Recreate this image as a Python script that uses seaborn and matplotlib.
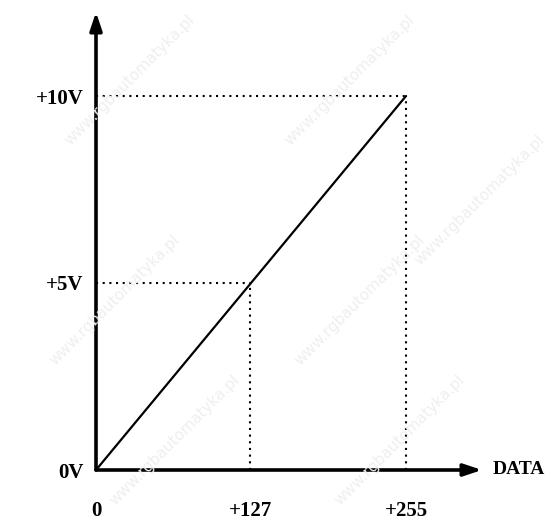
import matplotlib
matplotlib.use("Agg")
import matplotlib.pyplot as plt
import seaborn as sns

# ---- data ----
data_codes = [0, 255]          # transfer line: DATA code
voltages = [0, 10]             # transfer line: output volts
ref_codes = [127, 255]         # reference points (dotted guides)
ref_volts = [5, 10]
x_ticks = [0, 127, 255]
x_labels = ["0", "+127", "+255"]
y_ticks = [0, 5, 10]
y_labels = ["0V", "+5V", "+10V"]
x_axis_label = "DATA"
watermark = "www.rgbautomatyka.pl"
watermark_pos = [(130, 80), (350, 80), (480, 200), (115, 300), (360, 300),
                 (175, 440), (400, 440)]

sns.set_theme(style="white")
plt.rcParams['font.family'] = ['Liberation Serif', 'DejaVu Serif']

W, H = 547, 523
fig = plt.figure(figsize=(W / 100, H / 100), dpi=100)
fig.patch.set_facecolor("white")

# faint watermarks
for (px, py) in watermark_pos:
    fig.text(px / W, 1 - py / H, watermark, rotation=45, ha="center", va="center",
             fontsize=11, color="#efefef", family=["DejaVu Sans"], zorder=0)

ax = fig.add_axes([96 / W, 53 / H, 386 / W, 458 / H])
ax.patch.set_alpha(0)
xmax = 255 * 386 / 310
ymax = 10 * 458 / 374
ax.set_xlim(0, xmax)
ax.set_ylim(0, ymax)
for s in ax.spines.values():
    s.set_visible(False)

# dotted guide lines
for cx, cy in zip(ref_codes, ref_volts):
    ax.plot([0, cx], [cy, cy], color="black", lw=1.5, linestyle=(0, (1, 2.2)))
    ax.plot([cx, cx], [0, cy], color="black", lw=1.5, linestyle=(0, (1, 2.2)))

# transfer line
sns.lineplot(x=data_codes, y=voltages, ax=ax, color="black", lw=1.6)

# axes with arrows
arrow = dict(arrowstyle="-|>,head_length=0.9,head_width=0.3", lw=2.6, color="black",
             shrinkA=0, shrinkB=0, mutation_scale=12)
ax.annotate("", xy=(xmax, 0), xytext=(0, 0), arrowprops=arrow, annotation_clip=False)
ax.annotate("", xy=(0, ymax), xytext=(0, 0), arrowprops=arrow, annotation_clip=False)

ax.set_xticks(x_ticks, x_labels)
ax.set_yticks(y_ticks, y_labels)
ax.tick_params(axis="x", length=0, pad=22, labelsize=15)
ax.tick_params(axis="y", length=0, pad=9, labelsize=15)
for lab in ax.get_xticklabels() + ax.get_yticklabels():
    lab.set_fontweight("bold")
    lab.set_color("black")
ax.grid(False)

ax.annotate(x_axis_label, xy=(xmax, 0), xytext=(8, 0), textcoords="offset points",
            ha="left", va="center", fontsize=14, fontweight="bold", color="black",
            annotation_clip=False)

fig.savefig("out.png", dpi=100, facecolor="white")
